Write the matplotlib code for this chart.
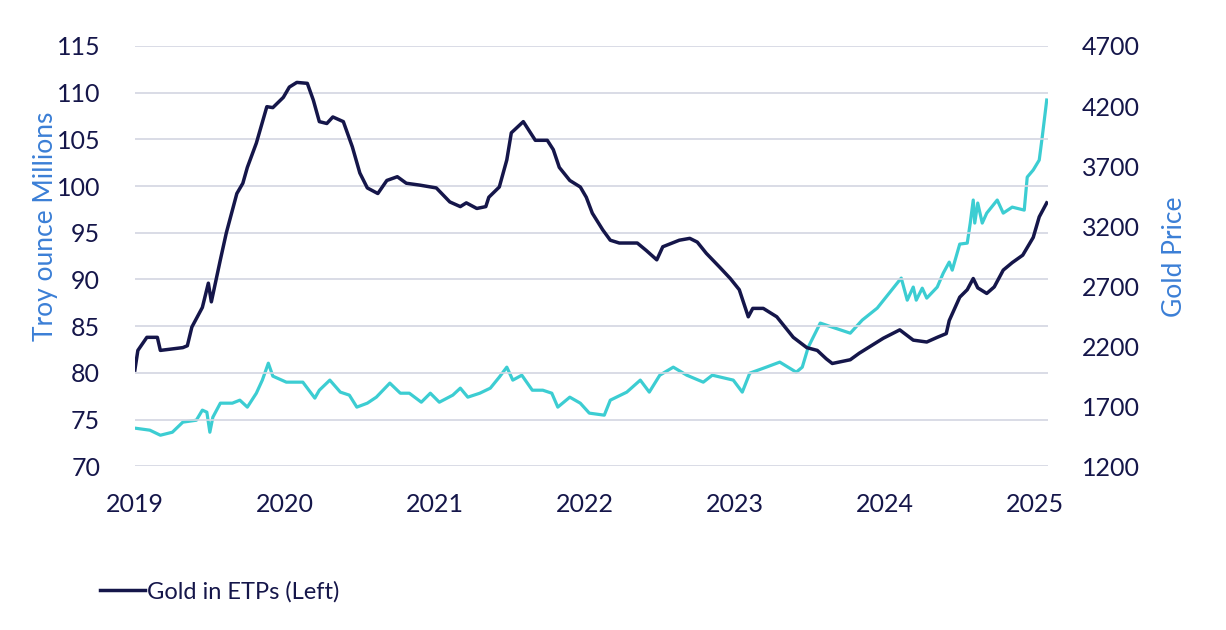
import matplotlib.pyplot as plt

plt.rcParams['font.family'] = ['Lato', 'DejaVu Sans']

# Gold held in ETPs (troy ounce, millions) - decimal year / value
etp_years = [2019.00, 2019.02, 2019.08, 2019.15, 2019.17, 2019.32, 2019.35, 2019.38,
             2019.45, 2019.49, 2019.51, 2019.57, 2019.61, 2019.68, 2019.72, 2019.75,
             2019.81, 2019.88, 2019.92, 2019.99, 2020.03, 2020.08, 2020.15, 2020.19,
             2020.23, 2020.28, 2020.32, 2020.39, 2020.45, 2020.50, 2020.55, 2020.62,
             2020.68, 2020.75, 2020.81, 2020.90, 2021.01, 2021.10, 2021.17, 2021.21,
             2021.28, 2021.34, 2021.36, 2021.43, 2021.48, 2021.51, 2021.59, 2021.67,
             2021.75, 2021.79, 2021.83, 2021.90, 2021.97, 2022.01, 2022.05, 2022.12,
             2022.17, 2022.23, 2022.35, 2022.41, 2022.48, 2022.52, 2022.63, 2022.70,
             2022.75, 2022.81, 2022.90, 2022.97, 2023.03, 2023.09, 2023.12, 2023.19,
             2023.28, 2023.39, 2023.48, 2023.55, 2023.61, 2023.65, 2023.77, 2023.83,
             2023.90, 2023.99, 2024.10, 2024.19, 2024.28, 2024.35, 2024.41, 2024.43,
             2024.50, 2024.55, 2024.59, 2024.62, 2024.68, 2024.73, 2024.79, 2024.85,
             2024.92, 2024.99, 2025.03, 2025.08]
etp_values = [80.3, 82.4, 83.8, 83.8, 82.4, 82.7, 82.9, 84.9,
              87.0, 89.6, 87.6, 92.1, 95.0, 99.2, 100.3, 102.0,
              104.6, 108.5, 108.4, 109.5, 110.6, 111.1, 111.0, 109.2,
              106.9, 106.7, 107.4, 106.9, 104.2, 101.4, 99.8, 99.2,
              100.6, 101.0, 100.3, 100.1, 99.8, 98.3, 97.8, 98.2,
              97.6, 97.8, 98.8, 99.9, 102.8, 105.7, 106.9, 104.9,
              104.9, 103.9, 102.0, 100.6, 99.9, 98.8, 97.1, 95.3,
              94.2, 93.9, 93.9, 93.1, 92.1, 93.5, 94.2, 94.4,
              94.0, 92.8, 91.3, 90.1, 88.9, 86.0, 86.9, 86.9,
              86.0, 83.8, 82.7, 82.4, 81.5, 81.0, 81.4, 82.1,
              82.8, 83.7, 84.6, 83.5, 83.3, 83.8, 84.2, 85.6,
              88.1, 88.9, 90.1, 89.1, 88.5, 89.2, 91.0, 91.8,
              92.6, 94.5, 96.7, 98.2]

# Gold price (USD/oz)
price_years = [2019.00, 2019.10, 2019.17, 2019.25, 2019.32, 2019.41, 2019.45, 2019.48,
               2019.50, 2019.52, 2019.57, 2019.65, 2019.70, 2019.75, 2019.81, 2019.85,
               2019.89, 2019.92, 2020.01, 2020.12, 2020.20, 2020.23, 2020.30, 2020.37,
               2020.43, 2020.48, 2020.55, 2020.61, 2020.70, 2020.77, 2020.83, 2020.91,
               2020.97, 2021.03, 2021.12, 2021.17, 2021.22, 2021.30, 2021.37, 2021.43,
               2021.48, 2021.52, 2021.58, 2021.65, 2021.72, 2021.78, 2021.82, 2021.90,
               2021.97, 2022.03, 2022.13, 2022.17, 2022.28, 2022.37, 2022.43, 2022.50,
               2022.59, 2022.68, 2022.79, 2022.85, 2022.99, 2023.05, 2023.10, 2023.21,
               2023.30, 2023.41, 2023.45, 2023.49, 2023.57, 2023.65, 2023.77, 2023.85,
               2023.95, 2024.03, 2024.11, 2024.15, 2024.19, 2024.21, 2024.25, 2024.28,
               2024.35, 2024.39, 2024.43, 2024.45, 2024.50, 2024.55, 2024.57, 2024.59,
               2024.60, 2024.62, 2024.65, 2024.68, 2024.75, 2024.79, 2024.85, 2024.93,
               2024.95, 2024.99, 2025.03, 2025.05, 2025.08]
price_values = [1517, 1500, 1458, 1483, 1567, 1583, 1667, 1650,
                1483, 1608, 1725, 1725, 1750, 1692, 1808, 1917,
                2058, 1950, 1900, 1900, 1767, 1833, 1917, 1817,
                1792, 1692, 1725, 1775, 1892, 1808, 1808, 1733,
                1808, 1733, 1792, 1850, 1775, 1808, 1850, 1942,
                2025, 1917, 1958, 1833, 1833, 1808, 1692, 1775,
                1725, 1642, 1625, 1750, 1817, 1917, 1817, 1958,
                2025, 1958, 1900, 1958, 1917, 1817, 1975, 2025,
                2067, 1983, 2025, 2192, 2392, 2358, 2308, 2417,
                2517, 2642, 2767, 2583, 2692, 2583, 2683, 2600,
                2692, 2808, 2900, 2833, 3050, 3058, 3225, 3417,
                3225, 3392, 3225, 3308, 3417, 3308, 3358, 3333,
                3608, 3667, 3750, 3942, 4250]

year_ticks = [2019, 2020, 2021, 2022, 2023, 2024, 2025]
left_ticks = list(range(70, 116, 5))
right_ticks = list(range(1200, 4701, 500))

navy = '#15164a'
teal = '#3ccdd2'
blue = '#3b7fd6'

fig = plt.figure(figsize=(12.26, 6.30), dpi=100)
ax = fig.add_axes([0.110, 0.260, 0.745, 0.667])
ax2 = ax.twinx()

ax2.plot(price_years, price_values, color=teal, linewidth=2.3)
ax.plot(etp_years, etp_values, color=navy, linewidth=2.5, label='Gold in ETPs (Left)')
ax.set_zorder(ax2.get_zorder() + 1)
ax.patch.set_visible(False)

ax.set_xlim(2019, 2025.09)
ax.set_ylim(70, 115)
ax2.set_ylim(1200, 4700)
ax.set_yticks(left_ticks)
ax2.set_yticks(right_ticks)
ax.set_xticks(year_ticks)

ax.grid(axis='y', color='#d3d6e2', linewidth=1.2)
ax.grid(axis='x', visible=False)
for a in (ax, ax2):
    for s in a.spines.values():
        s.set_visible(False)
    a.tick_params(length=0, labelsize=18, labelcolor=navy)
ax.tick_params(axis='y', pad=25)
ax2.tick_params(axis='y', pad=24)
ax.tick_params(axis='x', pad=19)

fig.text(46 / 1226, 1 - 226 / 630, 'Troy ounce Millions', rotation=90,
         color=blue, fontsize=19, ha='center', va='center')
fig.text(1175 / 1226, 1 - 257 / 630, 'Gold Price', rotation=90,
         color=blue, fontsize=19, ha='center', va='center')

ax.legend(loc='center left', bbox_to_anchor=(79 / 1226, 1 - 592 / 630),
          bbox_transform=fig.transFigure, frameon=False, fontsize=17,
          handlelength=1.9, handletextpad=0.1, labelcolor=navy)

fig.savefig('out.png', dpi=100)
